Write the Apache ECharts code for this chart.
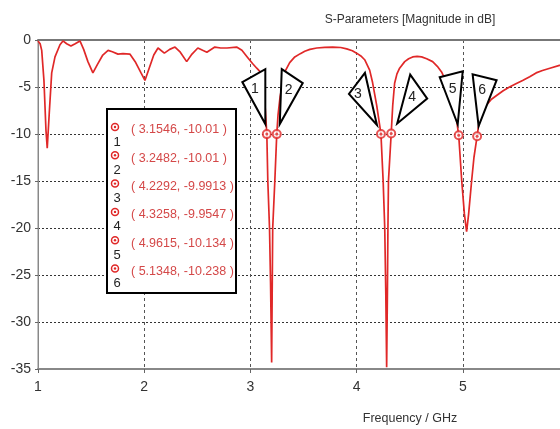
<!DOCTYPE html>
<html>
<head>
<meta charset="utf-8">
<title>S-Parameters</title>
<script src="https://cdn.jsdelivr.net/npm/echarts@6/dist/echarts.min.js"></script>
<style>
  html, body { margin: 0; padding: 0; background: #fff; }
  #chart { width: 560px; height: 429px; }
</style>
</head>
<body>
<div id="chart"></div>
<script>
// S11 curve (GHz, dB)
const freqGHz = [
  1.0, 1.02, 1.035, 1.056, 1.075, 1.087, 1.106, 1.129, 1.16, 1.207, 1.235, 1.27, 1.31, 1.35, 1.395,
  1.43, 1.47, 1.517, 1.56, 1.61, 1.66, 1.70, 1.753, 1.80, 1.865, 1.92, 1.97, 2.007, 2.05, 2.09,
  2.13, 2.19, 2.24, 2.29, 2.34, 2.40, 2.45, 2.505, 2.55, 2.59, 2.665, 2.72, 2.78, 2.87, 2.92,
  2.97, 3.02, 3.06, 3.11, 3.13, 3.1546, 3.164, 3.18, 3.19, 3.20, 3.205, 3.21, 3.23, 3.2482,
  3.26, 3.28, 3.30, 3.324, 3.37, 3.418, 3.47, 3.512, 3.56, 3.625, 3.70, 3.775, 3.85, 3.907,
  3.96, 4.0, 4.04, 4.076, 4.123, 4.15, 4.19, 4.2292, 4.25, 4.265, 4.275, 4.283, 4.29, 4.295,
  4.30, 4.3258, 4.34, 4.358, 4.38, 4.405, 4.453, 4.49, 4.528, 4.57, 4.612, 4.66, 4.716, 4.76,
  4.80, 4.85, 4.90, 4.935, 4.9615, 4.99, 5.015, 5.036, 5.055, 5.083, 5.105, 5.1348, 5.158,
  5.19, 5.224, 5.27, 5.318, 5.38, 5.44, 5.50, 5.563, 5.63, 5.69, 5.75, 5.82, 5.91, 6.0
];
const s11dB = [
  -0.1, -0.4, -1.1, -4.3, -9.6, -11.5, -7.8, -3.5, -1.8, -0.5, -0.1, -0.4, -0.65, -0.4, -0.1,
  -1.0, -2.3, -3.5, -2.6, -1.6, -1.1, -1.25, -1.5, -1.45, -1.5, -2.4, -3.5, -4.3, -2.9, -1.6,
  -0.85, -1.4, -1.0, -0.75, -1.3, -2.3, -1.5, -0.85, -1.1, -1.3, -0.75, -0.85, -0.85, -0.75, -1.1,
  -1.8, -2.5, -3.0, -3.6, -5.5, -10.01, -15, -20, -26, -34.3, -27, -20, -15, -10.01,
  -8.0, -6.0, -4.8, -3.4, -2.4, -1.8, -1.45, -1.2, -1.0, -0.85, -0.78, -0.75, -0.8, -0.95,
  -1.15, -1.4, -1.7, -2.1, -3.2, -4.5, -7.0, -9.9913, -15, -20, -27, -34.8, -27, -20,
  -15, -9.9547, -7.0, -4.6, -3.6, -3.0, -2.3, -2.0, -1.8, -1.75, -1.8, -2.0, -2.3, -2.8,
  -3.4, -4.6, -6.3, -8.0, -10.134, -15, -18.5, -20.4, -18.5, -15, -12.5, -10.238, -8.3,
  -7.5, -6.9, -6.3, -5.9, -5.4, -5.0, -4.65, -4.3, -3.9, -3.5, -3.25, -3.0, -2.7, -2.5
];

// markers 1..6
const markerNames = ['1', '2', '3', '4', '5', '6'];
const markerFreq = [3.1546, 3.2482, 4.2292, 4.3258, 4.9615, 5.1348];
const markerDb = [-10.01, -10.01, -9.9913, -9.9547, -10.134, -10.238];

const titleText = 'S-Parameters [Magnitude in dB]';
const xAxisTitle = 'Frequency / GHz';

const RED = '#e02828';
const TEXT_RED = '#d44848';
const FONT = 'Liberation Sans, Arial, sans-serif';

// callout triangles, offsets in px from each marker
const callouts = [
  { pts: [[-1.5, -10], [-1.5, -65], [-24.5, -52]], label: [-12, -45] },
  { pts: [[3, -10], [5, -65], [26, -51]], label: [12, -44] },
  { pts: [[-4, -9], [-16, -61], [-32, -40]], label: [-23, -40] },
  { pts: [[6, -10], [19, -59], [36, -35]], label: [21, -36] },
  { pts: [[-1, -11], [4, -64], [-19, -58]], label: [-6, -46] },
  { pts: [[1.5, -10], [-4.5, -62], [19.5, -56]], label: [5, -46] }
];

const chart = echarts.init(document.getElementById('chart'));

const curve = freqGHz.map((f, i) => [f, s11dB[i]]);
const markers = markerFreq.map((f, i) => [f, markerDb[i]]);

chart.setOption({
  animation: false,
  grid: {
    left: 38,
    top: 40,
    bottom: 60,
    right: -9,          // x = 6 GHz sits just past the right edge, as in the picture
    outerBoundsMode: 'none',
    containLabel: false,
    show: true,
    borderColor: '#8a8a8a',
    borderWidth: 1
  },
  xAxis: [
    {
      type: 'value',
      min: 1,
      max: 6,
      interval: 1,
      axisLine: { show: true, onZero: false, lineStyle: { color: '#888', width: 2 } },
      axisTick: { show: true, length: 4, lineStyle: { color: '#666' } },
      axisLabel: { color: '#333', fontSize: 14, fontFamily: FONT, margin: 11 },
      splitLine: { show: true, lineStyle: { color: '#555', type: [3, 3], width: 1 } }
    },
    {
      // top border line of the plot
      type: 'value',
      position: 'top',
      min: 1,
      max: 6,
      axisLine: { show: true, lineStyle: { color: '#777', width: 2 } },
      axisTick: { show: false },
      axisLabel: { show: false },
      splitLine: { show: false }
    }
  ],
  yAxis: {
    type: 'value',
    min: -35,
    max: 0,
    interval: 5,
    axisLine: { show: true, onZero: false, lineStyle: { color: '#888', width: 1 } },
    axisTick: { show: true, length: 3, lineStyle: { color: '#666' } },
    axisLabel: { color: '#333', fontSize: 14, fontFamily: FONT, margin: 7 },
    splitLine: { show: true, lineStyle: { color: '#333', type: [2, 2], width: 1 } }
  },
  series: [
    {
      type: 'line',
      data: curve,
      showSymbol: false,
      lineStyle: { color: RED, width: 1.7 },
      z: 3
    },
    {
      type: 'scatter',
      data: markers,
      symbol: 'emptyCircle',
      symbolSize: 8,
      itemStyle: { color: RED, borderColor: RED, borderWidth: 1.5 },
      z: 5
    },
    {
      type: 'scatter',
      data: markers,
      symbol: 'circle',
      symbolSize: 3,
      itemStyle: { color: RED },
      z: 6
    }
  ]
});

// annotations: title, axis name, callout triangles, marker table
const graphics = [];
graphics.push({
  type: 'text', x: 410, y: 20, z: 100,
  style: { text: titleText, fill: '#333', font: '12px ' + FONT, textAlign: 'center', textVerticalAlign: 'middle' }
});
graphics.push({
  type: 'text', x: 410, y: 419, z: 100,
  style: { text: xAxisTitle, fill: '#333', font: '12.5px ' + FONT, textAlign: 'center', textVerticalAlign: 'middle' }
});

markers.forEach((m, i) => {
  const p = chart.convertToPixel({ gridIndex: 0 }, m);
  const c = callouts[i];
  graphics.push({
    type: 'polygon', z: 100,
    shape: { points: c.pts.map(d => [p[0] + d[0], p[1] + d[1]]) },
    style: { fill: '#fff', stroke: '#000', lineWidth: 2 }
  });
  graphics.push({
    type: 'text', z: 101, x: p[0] + c.label[0], y: p[1] + c.label[1],
    style: { text: markerNames[i], fill: '#222', font: '14px ' + FONT, textAlign: 'center', textVerticalAlign: 'middle' }
  });
});

// marker value table
graphics.push({
  type: 'rect', z: 100,
  shape: { x: 107, y: 109, width: 129, height: 184 },
  style: { fill: '#fff', stroke: '#000', lineWidth: 2 }
});
markerNames.forEach((name, i) => {
  const cy = 130 + i * 28.3;
  graphics.push({
    type: 'circle', z: 101, shape: { cx: 115, cy: cy - 3, r: 3.5 },
    style: { fill: 'none', stroke: RED, lineWidth: 1.5 }
  });
  graphics.push({
    type: 'circle', z: 101, shape: { cx: 115, cy: cy - 3, r: 1.2 },
    style: { fill: RED }
  });
  graphics.push({
    type: 'text', z: 101, x: 117, y: cy + 12,
    style: { text: name, fill: '#222', font: '13px ' + FONT, textAlign: 'center', textVerticalAlign: 'middle' }
  });
  graphics.push({
    type: 'text', z: 101, x: 131, y: cy,
    style: { text: '( ' + markerFreq[i] + ', ' + markerDb[i] + ' )', fill: TEXT_RED, font: '12.5px ' + FONT, textVerticalAlign: 'middle' }
  });
});

chart.setOption({ graphic: graphics });
</script>
</body>
</html>
